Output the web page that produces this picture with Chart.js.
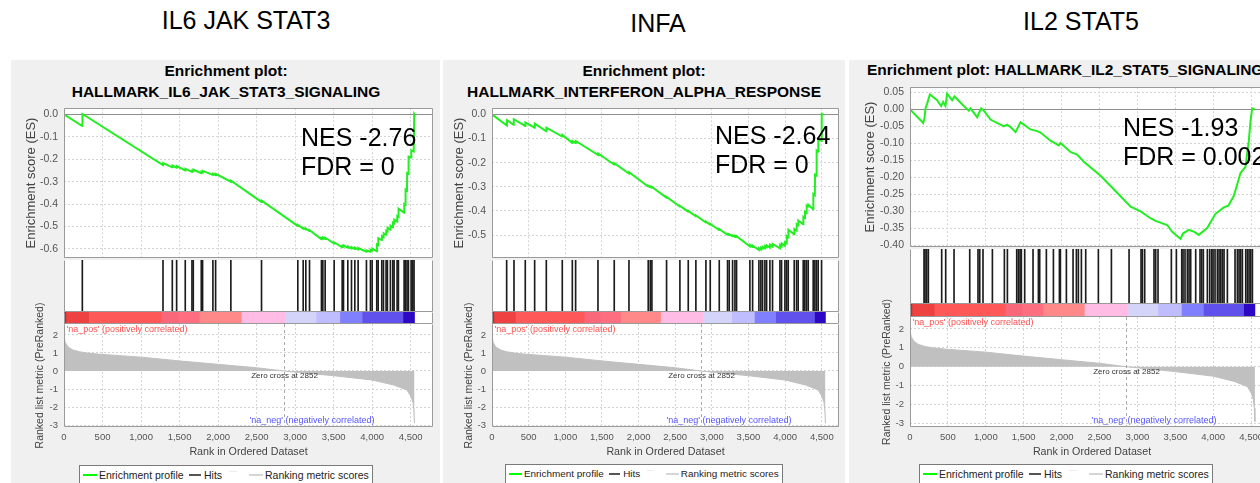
<!DOCTYPE html>
<html>
<head>
<meta charset="utf-8">
<script src="https://cdn.jsdelivr.net/npm/chart.js@4.4.0/dist/chart.umd.min.js"></script>
<style>
  body { margin: 0; width: 1260px; height: 483px; overflow: hidden; background: #fff; position: relative;
         font-family: "Liberation Sans", Arial, sans-serif; }
  .panel { position: absolute; top: 60px; height: 430px; background: #f0f0f0; }
  .txt { position: absolute; white-space: nowrap; color: #000; }
  .c { transform: translateX(-50%); }
  canvas { position: absolute; }
  .legend { position: absolute; height: 22px; background: #fff; border: 1px solid #7a7a7a; box-sizing: border-box; }
  .legend span { position: absolute; white-space: nowrap; color: #222; }
  .legend i { position: absolute; display: block; }
</style>
</head>
<body>
<div class="panel" style="left:11px;width:429px"></div>
<div class="panel" style="left:443px;width:402px"></div>
<div class="panel" style="left:849px;width:420px"></div>

<div class="txt c" style="left:246px;top:6px;font-size:25px;line-height:28px">IL6 JAK STAT3</div>
<div class="txt c" style="left:658px;top:9px;font-size:25px;line-height:28px">INFA</div>
<div class="txt c" style="left:1081px;top:7px;font-size:25px;line-height:28px">IL2 STAT5</div>

<div class="txt c" style="left:226px;top:62px;font-size:15.5px;line-height:18px;font-weight:bold">Enrichment plot:</div>
<div class="txt c" style="left:226px;top:83px;font-size:15.5px;line-height:18px;font-weight:bold">HALLMARK_IL6_JAK_STAT3_SIGNALING</div>
<div class="txt c" style="left:644px;top:62px;font-size:15.5px;line-height:18px;font-weight:bold">Enrichment plot:</div>
<div class="txt c" style="left:644px;top:83px;font-size:15.5px;line-height:18px;font-weight:bold">HALLMARK_INTERFERON_ALPHA_RESPONSE</div>
<div class="txt" style="left:867px;top:61px;font-size:15.5px;line-height:18px;font-weight:bold">Enrichment plot: HALLMARK_IL2_STAT5_SIGNALING</div>

<script>
// ---- ranked list (shared by all three plots) ----
const metricRank  = [0, 15, 50, 110, 200, 300, 466, 1000, 1500, 2000, 2500, 2852, 3000, 3500, 4000, 4280, 4450, 4505, 4530, 4542, 4550];
const metricValue = [1.95, 1.6, 1.35, 1.18, 1.07, 1.0, 0.93, 0.77, 0.56, 0.37, 0.18, 0.0, -0.06, -0.26, -0.5, -0.78, -1.05, -1.42, -1.75, -2.2, -2.9];
const zeroCross = 2852;
const xTicks = [0, 500, 1000, 1500, 2000, 2500, 3000, 3500, 4000, 4500];
const metricTicks = [2, 1, 0, -1, -2, -3];

// heat bar under the hits
const barStart = [0, 25, 320, 1260, 1480, 1755, 2300, 2875, 3270, 3580, 3870, 4400];
const barEnd   = [25, 320, 1260, 1480, 1755, 2300, 2875, 3270, 3580, 3870, 4400, 4550];
const barColor = ['#dc1e1e', '#ee4242', '#ff5858', '#f8687a', '#fc6e80', '#ff8888', '#ffbde6', '#d4d4fb', '#c0bdff', '#8080ff', '#6050ec', '#2c08c4'];

// ---- IL6 JAK STAT3 ----
const esRank1 = [0, 237, 240, 1284, 1287, 1405, 1408, 1461, 1464, 1573, 1576, 1660, 1663, 1678, 1681, 1781, 1784, 1799, 1802,
  1932, 1935, 1967, 1970, 2165, 2168, 2563, 2566, 3034, 3037, 3104, 3107, 3138, 3141, 3186, 3189, 3341, 3344, 3359, 3362,
  3389, 3392, 3506, 3509, 3610, 3613, 3627, 3630, 3683, 3686, 3731, 3734, 3774, 3777, 3817, 3820, 3925, 3928, 3977, 3980,
  3999, 4002, 4059, 4062, 4077, 4080, 4124, 4127, 4146, 4149, 4180, 4183, 4197, 4200, 4236, 4239, 4267, 4270, 4284, 4287,
  4323, 4326, 4340, 4343, 4414, 4417, 4431, 4434, 4452, 4455, 4470, 4473, 4505, 4508, 4540, 4546, 4550];
const esScore1 = [0, -0.052, 0.002, -0.226, -0.217, -0.236, -0.228, -0.238, -0.231, -0.250, -0.243, -0.256, -0.250, -0.253, -0.246, -0.262, -0.256, -0.259, -0.252,
  -0.270, -0.264, -0.271, -0.265, -0.300, -0.295, -0.390, -0.385, -0.497, -0.493, -0.510, -0.506, -0.513, -0.509, -0.520, -0.516, -0.556, -0.551, -0.554, -0.549,
  -0.555, -0.550, -0.576, -0.571, -0.592, -0.587, -0.590, -0.584, -0.594, -0.589, -0.598, -0.592, -0.600, -0.594, -0.602, -0.596, -0.612, -0.606, -0.612, -0.604,
  -0.608, -0.598, -0.610, -0.580, -0.584, -0.552, -0.560, -0.543, -0.548, -0.530, -0.537, -0.519, -0.523, -0.505, -0.514, -0.496, -0.503, -0.484, -0.488, -0.469,
  -0.478, -0.454, -0.458, -0.420, -0.438, -0.400, -0.404, -0.335, -0.340, -0.262, -0.266, -0.188, -0.192, -0.160, -0.165, 0.002, 0.0];
const hits1 = [238, 1285, 1406, 1462, 1574, 1661, 1678, 1782, 1799, 1933, 1968, 2166, 2564, 3035, 3105, 3139, 3187, 3342, 3360, 3390,
  3507, 3611, 3628, 3684, 3732, 3775, 3818, 3926, 3978, 4000, 4060, 4078, 4125, 4147, 4181, 4198, 4237, 4268, 4285, 4324, 4341,
  4415, 4432, 4453, 4471, 4506, 4527, 4544];
const esTicks1 = [0.0, -0.1, -0.2, -0.3, -0.4, -0.5, -0.6];

// ---- INTERFERON ALPHA ----
const esRank2 = [0, 203, 206, 294, 297, 453, 456, 581, 584, 740, 743, 958, 961, 1095, 1098, 1140, 1143, 1445, 1448, 1667, 1670,
  1868, 1871, 2131, 2133, 2159, 2161, 2181, 2183, 2381, 2383, 2563, 2565, 2677, 2679, 2781, 2783, 2918, 2920, 2977, 2979,
  3100, 3102, 3213, 3215, 3236, 3238, 3282, 3284, 3314, 3316, 3336, 3338, 3518, 3521, 3555, 3558, 3641, 3644, 3668, 3671,
  3691, 3694, 3723, 3726, 3746, 3749, 3791, 3794, 3827, 3830, 3928, 3931, 3950, 3953, 3996, 3999, 4019, 4022, 4041, 4044,
  4123, 4126, 4155, 4158, 4177, 4180, 4246, 4249, 4268, 4271, 4291, 4294, 4314, 4317, 4382, 4385, 4405, 4408, 4427, 4430,
  4450, 4453, 4496, 4499, 4522];
const esScore2 = [0, -0.046, -0.024, -0.043, -0.020, -0.048, -0.033, -0.055, -0.038, -0.070, -0.055, -0.092, -0.085, -0.118, -0.110, -0.118, -0.110, -0.168, -0.162, -0.208, -0.202,
  -0.245, -0.240, -0.299, -0.296, -0.302, -0.299, -0.304, -0.301, -0.345, -0.342, -0.382, -0.379, -0.403, -0.400, -0.422, -0.419, -0.448, -0.445, -0.457, -0.454,
  -0.479, -0.476, -0.499, -0.496, -0.500, -0.497, -0.505, -0.502, -0.507, -0.504, -0.508, -0.505, -0.547, -0.541, -0.550, -0.544, -0.562, -0.554, -0.560, -0.552,
  -0.557, -0.549, -0.555, -0.546, -0.552, -0.543, -0.552, -0.540, -0.548, -0.537, -0.555, -0.542, -0.548, -0.535, -0.545, -0.530, -0.535, -0.505, -0.510, -0.478,
  -0.497, -0.475, -0.482, -0.455, -0.460, -0.440, -0.455, -0.425, -0.430, -0.405, -0.410, -0.378, -0.382, -0.375, -0.393, -0.330, -0.335, -0.250, -0.254, -0.150,
  -0.155, -0.100, -0.110, 0.002, 0.0];
const hits2 = [200, 300, 454, 582, 741, 959, 1096, 1141, 1446, 1668, 1869, 2132, 2160, 2182, 2382, 2564, 2678, 2782, 2919, 2978,
  3101, 3214, 3237, 3283, 3315, 3337, 3519, 3556, 3642, 3669, 3692, 3724, 3747, 3792, 3828, 3929, 3951, 3997, 4020, 4042,
  4124, 4156, 4178, 4247, 4269, 4292, 4315, 4383, 4406, 4428, 4451, 4497];
const esTicks2 = [0.0, -0.1, -0.2, -0.3, -0.4, -0.5];

// ---- IL2 STAT5 ----
const esRank3 = [0, 174, 191, 204, 226, 262, 358, 411, 437, 468, 490, 556, 587, 710, 776, 798, 886, 912, 939, 974, 1062,
  1238, 1282, 1326, 1392, 1458, 1502, 1590, 1678, 1722, 1854, 1963, 1985, 2117, 2205, 2293, 2514, 2733, 2910, 3042, 3173,
  3239, 3393, 3459, 3569, 3600, 3678, 3750, 3810, 3920, 4030, 4140, 4200, 4272, 4316, 4360, 4426, 4448, 4470, 4492, 4514, 4548];
const esScore3 = [0, -0.040, -0.026, 0.003, 0.017, 0.044, 0.027, 0.010, 0.022, 0.010, 0.046, 0.027, 0.038, 0.010, -0.004, 0.003, -0.023, -0.010, 0.003, -0.004, -0.030,
  -0.050, -0.045, -0.052, -0.067, -0.038, -0.045, -0.059, -0.064, -0.068, -0.092, -0.106, -0.099, -0.125, -0.133, -0.154, -0.195, -0.245, -0.286, -0.300, -0.320,
  -0.328, -0.340, -0.360, -0.381, -0.365, -0.354, -0.360, -0.369, -0.349, -0.307, -0.288, -0.283, -0.254, -0.221, -0.187, -0.169, -0.130, -0.092, -0.035, 0.003, 0.0];
const hits3 = [185, 198, 220, 242, 418, 471, 581, 788, 897, 920, 963, 1087, 1245, 1285, 1408, 1430, 1452, 1469, 1513, 1623,
  1694, 1711, 1799, 1892, 1971, 1984, 2063, 2151, 2195, 2221, 2261, 2318, 2485, 2657, 2890, 3048, 3066, 3096, 3219, 3241,
  3272, 3448, 3514, 3585, 3602, 3628, 3659, 3681, 3703, 3769, 3826, 3848, 3870, 3923, 3954, 3980, 3998, 4024, 4055, 4077,
  4099, 4121, 4143, 4187, 4288, 4319, 4341, 4363, 4385, 4429, 4451, 4473, 4495, 4517];
const esTicks3 = [0.05, 0.0, -0.05, -0.10, -0.15, -0.20, -0.25, -0.30, -0.35, -0.40];

Chart.defaults.font.family = '"Liberation Sans", Arial, sans-serif';

const GRID = '#d4d4d4';
const AXIS_W = 55;   // fixed width of every left axis

function addCanvas(x, y, w, h) {
    const c = document.createElement('canvas');
    c.width = w; c.height = h;
    c.style.left = x + 'px'; c.style.top = y + 'px';
    c.style.width = w + 'px'; c.style.height = h + 'px';
    document.body.appendChild(c);
    return c;
}

// white plot background + gray box round it (top edge only where asked)
const framePlugin = {
    id: 'frame',
    beforeDraw(chart) {
        const { ctx, chartArea: a } = chart;
        ctx.save();
        ctx.fillStyle = '#fff';
        ctx.fillRect(a.left, a.top, a.right - a.left, a.bottom - a.top);
        ctx.restore();
    },
    afterDraw(chart, args, opts) {
        const { ctx, chartArea: a } = chart;
        const l = Math.round(a.left) + 0.5, r = Math.round(a.right) - 0.5;
        const t = Math.round(a.top) + 0.5, b = Math.round(a.bottom) - 0.5;
        ctx.save();
        ctx.strokeStyle = '#9a9a9a';
        ctx.lineWidth = 1;
        ctx.beginPath();
        if (opts.top) { ctx.moveTo(l, t); ctx.lineTo(r, t); }
        ctx.moveTo(l, t); ctx.lineTo(l, b); ctx.lineTo(r, b); ctx.lineTo(r, t);
        ctx.stroke();
        ctx.restore();
    }
};

// zero cross marker and the na_pos / na_neg captions
const zeroCrossPlugin = {
    id: 'zeroCross',
    afterDraw(chart) {
        const { ctx, chartArea: a, scales: { x, y } } = chart;
        const zx = Math.round(x.getPixelForValue(zeroCross)) + 0.5;
        ctx.save();
        ctx.strokeStyle = '#a8a8a8';
        ctx.setLineDash([3, 3]);
        ctx.beginPath(); ctx.moveTo(zx, a.top); ctx.lineTo(zx, a.bottom); ctx.stroke();
        ctx.setLineDash([]);
        ctx.textBaseline = 'middle';
        ctx.font = '9px "Liberation Sans", Arial, sans-serif';
        ctx.fillStyle = '#ff5050'; ctx.textAlign = 'left';
        ctx.fillText("'na_pos' (positively correlated)", a.left + 2.5, a.top + 6);
        ctx.fillStyle = '#5555ff';
        ctx.fillText("'na_neg' (negatively correlated)", zx - 35, a.bottom - 6.5);
        ctx.font = '8px "Liberation Sans", Arial, sans-serif';
        ctx.fillStyle = '#333'; ctx.textAlign = 'center';
        ctx.fillText('Zero cross at ' + zeroCross, zx, y.getPixelForValue(0) + 5);
        ctx.restore();
    }
};

function setTicks(list) {
    return scale => { scale.ticks = list.map(v => ({ value: v })); };
}

function drawPanel(g, rank, score, hits, esTicks) {
    const plotW = g.right - g.left;
    const common = { responsive: false, animation: false, events: [] };

    // enrichment score
    let c = addCanvas(g.left - AXIS_W, g.esTop - 10, plotW + AXIS_W + 8, g.hitsTop - g.esTop + 20);
    new Chart(c, {
        type: 'line',
        data: { datasets: [{ data: rank.map((r, i) => ({ x: r, y: score[i] })), borderColor: '#22ee22', borderWidth: 2, pointRadius: 0, tension: 0, fill: false }] },
        options: Object.assign({}, common, {
            layout: { padding: { left: 0, right: 8, top: 10, bottom: 10 } },
            plugins: { legend: { display: false }, tooltip: { enabled: false }, frame: { top: true } },
            scales: {
                x: { type: 'linear', min: 0, max: g.xMax, afterBuildTicks: setTicks(xTicks),
                     ticks: { display: false }, grid: { color: GRID, drawTicks: false },
                     border: { display: false, dash: [2, 2] }, afterFit: s => { s.height = 0; } },
                y: { min: g.esMin, max: g.esMax, afterBuildTicks: setTicks(esTicks),
                     ticks: { font: { size: 10.5 }, color: '#555', padding: 6, callback: v => v.toFixed(g.dec) },
                     grid: { drawTicks: false, color: ctx => (ctx.tick && ctx.tick.value === 0) ? '#8c8c8c' : GRID },
                     border: { display: false, dash: ctx => (ctx.tick && ctx.tick.value === 0) ? [] : [2, 2] },
                     title: { display: true, text: 'Enrichment score (ES)', font: { size: 13 }, color: '#444',
                              padding: { top: AXIS_W - g.esTitleGap - 7.8, bottom: 0 } },
                     afterFit: s => { s.width = AXIS_W; } }
            }
        }),
        plugins: [framePlugin]
    });

    // hits
    c = addCanvas(g.left, g.hitsTop, plotW, g.colorTop - g.hitsTop);
    new Chart(c, {
        type: 'bar',
        data: { datasets: [{ data: hits.map(r => ({ x: r, y: 1 })), backgroundColor: '#1c1c1c', barThickness: 1, borderWidth: 0 }] },
        options: Object.assign({}, common, {
            layout: { padding: 0 },
            plugins: { legend: { display: false }, tooltip: { enabled: false }, frame: { top: false } },
            scales: { x: { type: 'linear', min: 0, max: g.xMax, offset: false, display: false }, y: { min: 0, max: 1, display: false } }
        }),
        plugins: [framePlugin]
    });

    // heat bar
    c = addCanvas(g.left, g.colorTop, plotW, g.metricTop - g.colorTop);
    new Chart(c, {
        type: 'bar',
        data: {
            labels: ['c'],
            datasets: barStart.map((s, i) => ({
                data: [{ x: [s, barEnd[i]], y: 'c' }], backgroundColor: barColor[i],
                grouped: false, barPercentage: 1, categoryPercentage: 1, borderWidth: 0
            }))
        },
        options: Object.assign({}, common, {
            indexAxis: 'y',
            layout: { padding: 0 },
            plugins: { legend: { display: false }, tooltip: { enabled: false }, frame: { top: false } },
            scales: { x: { type: 'linear', min: 0, max: g.xMax, offset: false, display: false }, y: { display: false } }
        }),
        plugins: [framePlugin]
    });

    // ranked list metric (canvas starts higher so the long axis title fits)
    const padTop = 40;
    c = addCanvas(g.left - AXIS_W, g.metricTop - padTop, plotW + AXIS_W + 8, 462 - g.metricTop + padTop);
    new Chart(c, {
        type: 'line',
        data: { datasets: [{ data: metricRank.map((r, i) => ({ x: r, y: metricValue[i] })), borderColor: '#c0c0c0', backgroundColor: '#c0c0c0', borderWidth: 1, pointRadius: 0, tension: 0, fill: 'origin' }] },
        options: Object.assign({}, common, {
            layout: { padding: { left: 0, right: 8, top: padTop, bottom: 0 } },
            plugins: { legend: { display: false }, tooltip: { enabled: false }, frame: { top: false } },
            scales: {
                x: { type: 'linear', min: 0, max: g.xMax, afterBuildTicks: setTicks(xTicks),
                     ticks: { font: { size: 9.5 }, color: '#555', padding: 5, maxRotation: 0, autoSkip: false, callback: v => v.toLocaleString('en-US') },
                     grid: { color: GRID, drawTicks: false }, border: { display: false, dash: [2, 2] },
                     title: { display: true, text: 'Rank in Ordered Dataset', font: { size: 10.7 }, color: '#444', padding: { top: 3.6, bottom: 3.6 } },
                     afterFit: s => { s.height = 462 - g.metricBottom; } },
                y: { min: g.mMin, max: g.mMax, afterBuildTicks: setTicks(metricTicks),
                     ticks: { font: { size: 9.5 }, color: '#555', padding: 6, callback: v => String(v) },
                     grid: { color: GRID, drawTicks: false }, border: { display: false, dash: [2, 2] },
                     title: { display: true, text: 'Ranked list metric (PreRanked)', font: { size: 10.5 }, color: '#444',
                              padding: { top: AXIS_W - g.metricTitleGap - 6.3, bottom: 0 } },
                     afterFit: s => { s.width = AXIS_W; } }
            }
        }),
        plugins: [framePlugin, zeroCrossPlugin]
    });
}

function addNes(x, y, nes, fdr) {
    const d = document.createElement('div');
    d.className = 'txt';
    d.style.cssText = `left:${x}px;top:${y}px;font-size:25px;line-height:28.7px`;
    d.innerHTML = 'NES ' + nes + '<br>FDR = ' + fdr;
    document.body.appendChild(d);
}

function addLegend(x, y, k) {
    const box = document.createElement('div');
    box.className = 'legend';
    box.style.left = x + 'px'; box.style.top = y + 'px'; box.style.width = (294 * k) + 'px';
    const parts = [
        { line: '#00ff00', dx: 3, w: 14, h: 2 },
        { text: 'Enrichment profile', dx: 19 },
        { line: '#555555', dx: 109, w: 12, h: 2 },
        { text: 'Hits', dx: 124 },
        { line: '#ececec', dx: 149, w: 8, h: 1, up: 3 },
        { line: '#d6d6d6', dx: 169, w: 14, h: 2 },
        { text: 'Ranking metric scores', dx: 185 }
    ];
    parts.forEach(p => {
        let el;
        if (p.text) {
            el = document.createElement('span');
            el.textContent = p.text;
            el.style.cssText = `left:${p.dx * k}px;top:${1}px;font-size:${10.5 * k}px;line-height:16px`;
        } else {
            el = document.createElement('i');
            el.style.cssText = `left:${p.dx * k}px;top:${8 - (p.up || 0)}px;width:${p.w * k}px;height:${p.h}px;background:${p.line}`;
        }
        box.appendChild(el);
    });
    document.body.appendChild(box);
}

drawPanel({ left: 64, right: 433, xMax: 4790, esTop: 106, hitsTop: 260, colorTop: 312, metricTop: 324, metricBottom: 427,
            esMin: -0.6388, esMax: 0.0272, mMin: -3.111, mMax: 2.611, esTitleGap: 32.5, metricTitleGap: 23.5, dec: 1 },
          esRank1, esScore1, hits1, esTicks1);
drawPanel({ left: 492, right: 839, xMax: 4735, esTop: 106, hitsTop: 260, colorTop: 312, metricTop: 324, metricBottom: 427,
            esMin: -0.5939, esMax: 0.0253, mMin: -3.111, mMax: 2.611, esTitleGap: 33, metricTitleGap: 23, dec: 1 },
          esRank2, esScore2, hits2, esTicks2);
drawPanel({ left: 910, right: 1274, xMax: 4802, esTop: 85, hitsTop: 249, colorTop: 304, metricTop: 317, metricBottom: 427,
            esMin: -0.4037, esMax: 0.0649, mMin: -3.19, mMax: 2.63, esTitleGap: 40, metricTitleGap: 22.5, dec: 2 },
          esRank3, esScore3, hits3, esTicks3);

addNes(301, 123, '-2.76', '0');
addNes(715, 121, '-2.64', '0');
addNes(1123, 113, '-1.93', '0.002');

addLegend(79, 465, 1);
addLegend(505, 464, 0.945);
addLegend(919, 464, 1);
</script>
</body>
</html>
